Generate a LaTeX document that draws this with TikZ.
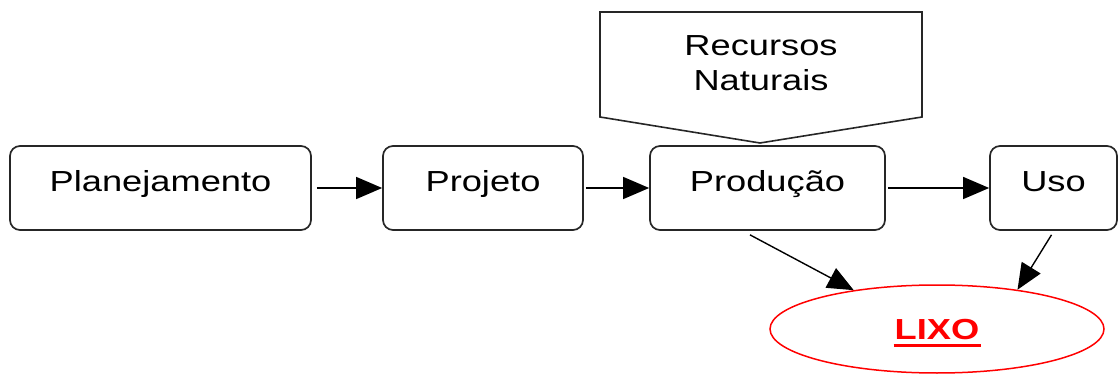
\documentclass[tikz,border=0pt]{standalone}
\usepackage{fontspec}
\setmainfont{Liberation Sans}
\usetikzlibrary{arrows.meta,shapes.geometric,calc}
\definecolor{lixored}{RGB}{255,0,0}
\newcommand{\widetxt}[1]{\scalebox{1.25}[1]{#1}}
\tikzset{
  diagfont/.style={font=\fontsize{29}{35}\selectfont},
  procbox/.style={draw=black!85, line width=1.7pt, rounded corners=10pt, minimum height=84pt, inner sep=0pt,
     text height=22pt, text depth=14pt, diagfont},
  flow/.style={line width=1.4pt, -{Triangle[length=26pt,width=22pt]}},
}
\begin{document}
\begin{tikzpicture}[x=1pt,y=-1pt]
\useasboundingbox (0,0) rectangle (1119,374);
% pentagon (Recursos Naturais)
\draw[line width=1.6pt, black!85] (600,12) -- (922,12) -- (922,117) -- (760,143) -- (600,117) -- cycle;
\node[align=center, diagfont, inner sep=0pt, anchor=base] (rec) at (761,91) {\widetxt{Recursos}\\\widetxt{Naturais}};
% boxes
\node[procbox, minimum width=301pt] (plan) at (160.5,188) {\widetxt{Planejamento}};
\node[procbox, minimum width=200pt] (proj) at (483,188) {\widetxt{Projeto}};
\node[procbox, minimum width=235pt] (prod) at (767.5,188) {\widetxt{Produção}};
\node[procbox, minimum width=127pt] (uso) at (1053.5,188) {\widetxt{Uso}};
% ellipse
\node[ellipse, draw=lixored, line width=1.5pt, minimum width=334pt, minimum height=88pt, inner sep=0pt] (lixo) at (937,329) {};
\node[text=lixored, diagfont, font=\fontsize{29}{35}\selectfont\bfseries, inner sep=0pt, text depth=0pt, anchor=base] (lixotxt) at (937,339) {\widetxt{LIXO}};
\draw[lixored, line width=3pt] ($(lixotxt.south west)+(-1,6)$) -- ($(lixotxt.south east)+(1,6)$);
% arrows
\draw[flow, shorten <=5pt] (plan.east) -- (proj.west);
\draw[flow, shorten <=2pt] (proj.east) -- (prod.west);
\draw[flow, shorten <=2pt] (prod.east) -- (uso.west);
\coordinate (pstart) at ($(prod.south)+(-17.5,4)$);
\coordinate (ustart) at ($(uso.south)+(-2,4)$);
\draw[flow] (pstart) -- (lixo.155);
\draw[flow] (ustart) -- (lixo.26);
\end{tikzpicture}
\end{document}
